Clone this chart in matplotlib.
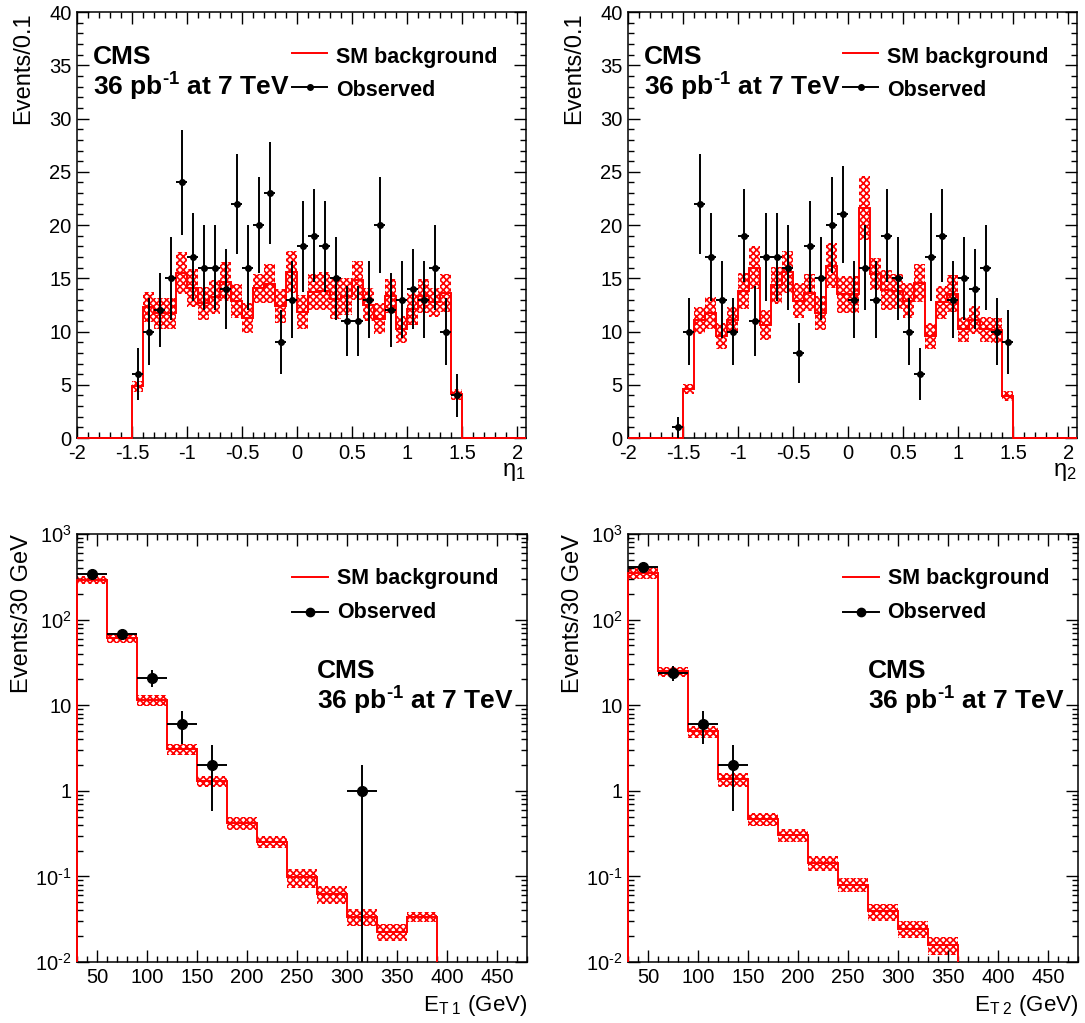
import numpy as np
import matplotlib
matplotlib.use('Agg')
from matplotlib import pyplot as plt
from matplotlib.ticker import MultipleLocator, LogLocator, FuncFormatter, NullFormatter

plt.rcParams['font.family'] = ['Liberation Sans', 'DejaVu Sans']
plt.rcParams['mathtext.fontset'] = 'custom'
plt.rcParams['mathtext.rm'] = 'Liberation Sans'
plt.rcParams['mathtext.it'] = 'Liberation Sans:italic'
plt.rcParams['mathtext.bf'] = 'Liberation Sans:bold'
plt.rcParams['hatch.linewidth'] = 1.2

# eta bins: 0.1 wide from -2 to 2
eta_edges = np.round(np.linspace(-2.0, 2.0, 41), 2)
obs_eta1 = [0, 0, 0, 0, 0,
            6, 10, 12, 15, 24, 17, 16, 16, 14, 22, 16, 20, 23, 9, 13,
            18, 19, 18, 15, 11, 11, 13, 20, 12, 13, 14, 13, 16, 10, 4,
            0, 0, 0, 0, 0]
obs_eta2 = [0, 0, 0, 0, 1,
            10, 22, 17, 13, 10, 19, 11, 17, 17, 16, 8, 18, 15, 20, 21,
            13, 16, 13, 19, 15, 10, 6, 17, 19, 13, 15, 14, 16, 10, 9,
            0, 0, 0, 0, 0]

# SM background for |eta| < 1.5 (30 bins): central value and uncertainty
sm_eta1 = [4.85, 12.3, 11.7, 11.7, 15.5, 14.1, 12.65, 13.25, 14.7, 12.9,
           11.3, 14.05, 14.5, 12.4, 15.6, 11.8, 13.7, 13.8, 13.05, 13.3,
           14.8, 12.5, 11.2, 13.3, 10.2, 12.15, 13.35, 12.75, 13.6, 4.1]
sm_eta1_err = [0.55, 1.4, 1.45, 1.45, 2.0, 1.75, 1.55, 1.6, 1.8, 1.6,
               1.4, 1.4, 1.8, 1.6, 2.0, 1.6, 1.7, 1.75, 1.85, 1.7,
               1.8, 1.55, 1.45, 1.6, 1.3, 1.5, 1.6, 1.35, 1.8, 0.5]
sm_eta2 = [4.6, 11.05, 11.75, 9.6, 11.1, 13.8, 16.0, 10.65, 14.35, 15.6,
           12.9, 13.65, 11.7, 16.2, 13.5, 13.5, 21.6, 15.4, 13.9, 13.8,
           12.9, 14.55, 9.6, 12.75, 13.55, 10.2, 11.1, 10.2, 10.1, 3.95]
sm_eta2_err = [0.5, 1.3, 1.5, 1.2, 1.25, 1.7, 2.0, 1.4, 1.75, 2.0,
               1.65, 1.75, 1.6, 2.1, 1.75, 1.75, 3.0, 1.5, 1.85, 1.65,
               1.65, 1.8, 1.25, 1.55, 1.75, 1.2, 1.3, 1.2, 1.2, 0.45]

# ET bins: 30 GeV wide
et1_edges = np.arange(30, 391, 30)
obs_et1 = [344, 67, 21, 6, 2, 0, 0, 0, 0, 1, 0, 0]
sm_et1 = [290, 61, 11.6, 3.1, 1.3, 0.42, 0.255, 0.098, 0.063, 0.034, 0.0225, 0.034]
sm_et1_err = [30, 8, 1.7, 0.45, 0.18, 0.075, 0.04, 0.024, 0.015, 0.0075, 0.005, 0.0045]

et2_edges = np.arange(30, 361, 30)
obs_et2 = [407, 24, 6, 2, 0, 0, 0, 0, 0, 0, 0]
sm_et2 = [350, 24.8, 4.95, 1.36, 0.47, 0.305, 0.145, 0.08, 0.039, 0.0245, 0.016]
sm_et2_err = [50, 3.5, 0.8, 0.25, 0.085, 0.053, 0.029, 0.015, 0.009, 0.0055, 0.0038]

FS_TICK = 14.5
FS_LEG = 15.5
FS_CMS = 19
LW = 1.4
HYPH = '\u2010'


def style_axes(ax):
    ax.tick_params(which='both', direction='in', top=True, right=True,
                   labelsize=FS_TICK, width=1.0, pad=4)
    ax.tick_params(which='major', length=8.5)
    ax.tick_params(which='minor', length=4.5)
    for s in ax.spines.values():
        s.set_linewidth(1.1)


def draw_band(ax, edges, centre, err, baseline, full_edges=None, full_centre=None):
    centre = np.asarray(centre, float)
    err = np.asarray(err, float)
    lo = centre - err
    ax.bar(edges[:-1], 2 * err, width=np.diff(edges), bottom=lo, align='edge',
           fill=False, hatch='xxxxx', edgecolor='red', linewidth=0)
    if full_edges is None:
        full_edges, full_centre = edges, centre
    ax.stairs(full_centre, full_edges, baseline=baseline, color='red', lw=LW,
              zorder=3, clip_on=False)


def draw_obs(ax, edges, counts, ms):
    counts = np.asarray(counts, float)
    centres = 0.5 * (edges[:-1] + edges[1:])
    half = 0.5 * np.diff(edges)
    m = counts > 0
    y = counts[m]
    err = np.sqrt(y)
    lo = np.minimum(err, y * 0.9999)
    ax.errorbar(centres[m], y, yerr=[lo, err], xerr=half[m], fmt='o',
                color='black', ms=ms, lw=LW, capsize=0, zorder=5)


def draw_legend(ax, ys, x0, x1, xt, ms):
    ax.plot([x0, x1], [ys[0], ys[0]], transform=ax.transAxes, color='red',
            lw=LW, clip_on=False)
    ax.plot([x0, x1], [ys[1], ys[1]], transform=ax.transAxes, color='black',
            lw=LW, clip_on=False)
    ax.plot([(x0 + x1) / 2], [ys[1]], transform=ax.transAxes, color='black',
            marker='o', ms=ms, clip_on=False)
    ax.text(xt, ys[2], 'SM background', transform=ax.transAxes,
            va='baseline', fontsize=FS_LEG, fontweight='bold')
    ax.text(xt, ys[3], 'Observed', transform=ax.transAxes,
            va='baseline', fontsize=FS_LEG, fontweight='bold')


def cms_label(ax, x, y1, y2):
    ax.text(x, y1, 'CMS', transform=ax.transAxes, va='baseline',
            fontsize=FS_CMS, fontweight='bold')
    ax.text(x, y2, r'36 pb$^{\mathbf{' + HYPH + r'1}}$ at 7 TeV',
            transform=ax.transAxes, va='baseline', fontsize=FS_CMS,
            fontweight='bold')


def log_fmt(v, pos):
    e = int(round(np.log10(v)))
    if e == 0:
        return '1'
    if e == 1:
        return '10'
    if e < 0:
        return r'10$^{' + HYPH + '%d}$' % (-e)
    return r'10$^{%d}$' % e


fig = plt.figure(figsize=(10.85, 10.23), dpi=100)

top_axes = [fig.add_axes([0.0710, 0.5718, 0.4138, 0.4164]),
            fig.add_axes([0.5788, 0.5718, 0.4138, 0.4164])]
bot_axes = [fig.add_axes([0.0710, 0.0596, 0.4147, 0.4184]),
            fig.add_axes([0.5788, 0.0596, 0.4147, 0.4184])]

# top row: eta distributions
eta_sets = [(obs_eta1, sm_eta1, sm_eta1_err, r'$\mathrm{\eta_{1}}$'),
            (obs_eta2, sm_eta2, sm_eta2_err, r'$\mathrm{\eta_{2}}$')]
in_edges = eta_edges[5:36]
for ax, (obs, sm, sm_err, lab) in zip(top_axes, eta_sets):
    full_edges = np.append(eta_edges[:-1], 2.08)
    full_centre = np.concatenate([np.zeros(5), sm, np.zeros(5)])
    draw_band(ax, in_edges, sm, sm_err, 0, full_edges, full_centre)
    draw_obs(ax, eta_edges, obs, 4)
    ax.set_xlim(-2, 2.08)
    ax.set_ylim(0, 40)
    ax.xaxis.set_major_locator(MultipleLocator(0.5))
    ax.xaxis.set_minor_locator(MultipleLocator(0.1))
    ax.yaxis.set_major_locator(MultipleLocator(5))
    ax.yaxis.set_minor_locator(MultipleLocator(1))
    ax.xaxis.set_major_formatter(FuncFormatter(lambda v, p: '%g' % round(v, 1)))
    style_axes(ax)
    ax.set_ylabel('Events/0.1', loc='top', fontsize=17)
    ax.yaxis.set_label_coords(-0.096, 1.0)
    ax.set_xlabel(lab, loc='right', fontsize=17)
    ax.xaxis.set_label_coords(1.0, -0.055)
    cms_label(ax, 0.036, 0.878, 0.803)
    draw_legend(ax, [0.904, 0.824, 0.881, 0.803], 0.479, 0.557, 0.577, 4)

# bottom row: ET distributions
et_sets = [(et1_edges, obs_et1, sm_et1, sm_et1_err, r'E$_{\mathrm{T\ 1}}$ (GeV)'),
           (et2_edges, obs_et2, sm_et2, sm_et2_err, r'E$_{\mathrm{T\ 2}}$ (GeV)')]
for ax, (edges, obs, sm, sm_err, lab) in zip(bot_axes, et_sets):
    ax.set_yscale('log')
    draw_band(ax, edges, sm, sm_err, 1e-2)
    draw_obs(ax, edges, obs, 7)
    ax.set_xlim(30, 480)
    ax.set_ylim(1e-2, 1e3)
    ax.xaxis.set_major_locator(MultipleLocator(50))
    ax.xaxis.set_minor_locator(MultipleLocator(10))
    ax.yaxis.set_major_locator(LogLocator(base=10, numticks=10))
    ax.yaxis.set_minor_locator(LogLocator(base=10, subs=np.arange(2, 10), numticks=20))
    ax.yaxis.set_major_formatter(FuncFormatter(log_fmt))
    ax.yaxis.set_minor_formatter(NullFormatter())
    style_axes(ax)
    ax.set_ylabel('Events/30 GeV', loc='top', fontsize=17)
    ax.yaxis.set_label_coords(-0.098, 1.0)
    ax.set_xlabel(lab, loc='right', fontsize=16)
    ax.xaxis.set_label_coords(1.0, -0.072)
    draw_legend(ax, [0.900, 0.818, 0.8825, 0.803], 0.477, 0.558, 0.577, 6)
    cms_label(ax, 0.534, 0.663, 0.589)

fig.savefig('out.png', dpi=100)
